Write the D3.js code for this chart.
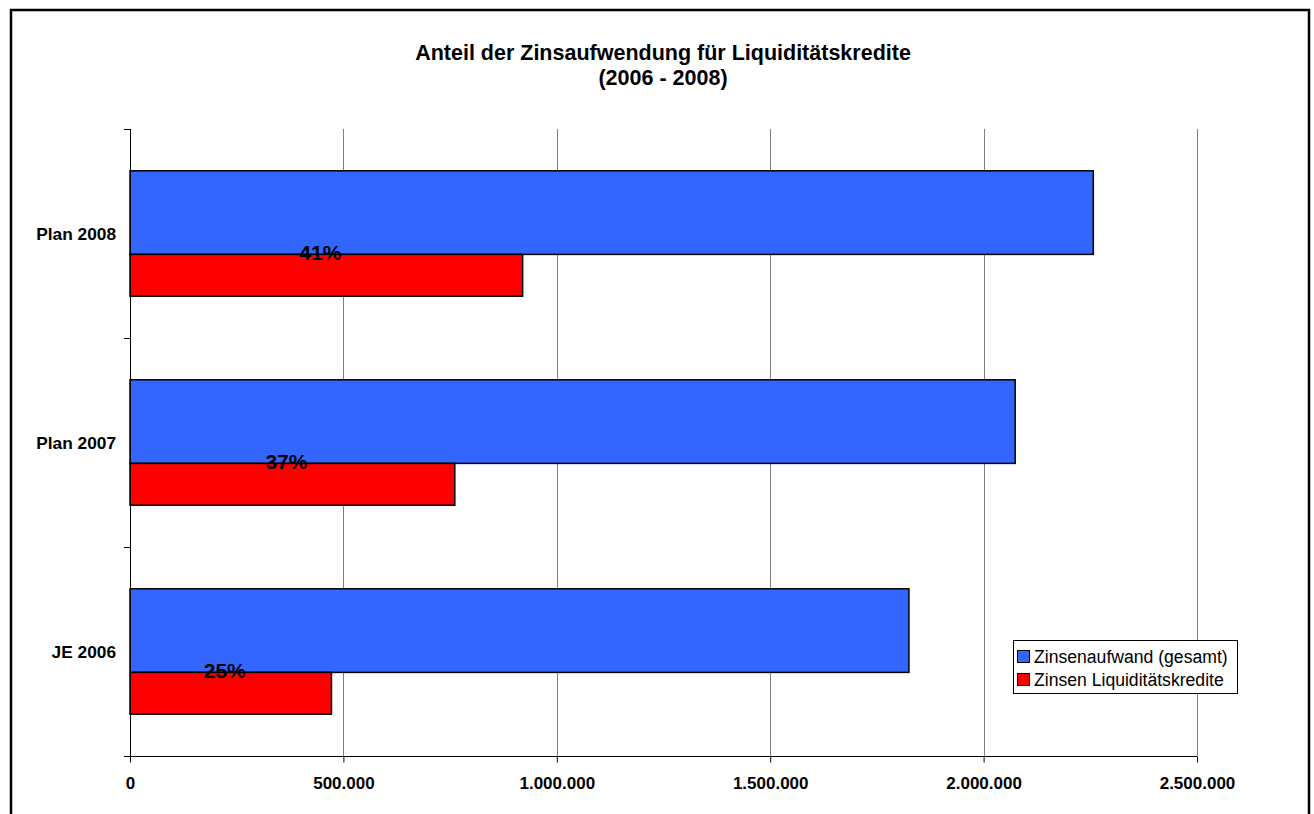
<!DOCTYPE html>
<html>
<head>
<meta charset="utf-8">
<script src="https://cdn.jsdelivr.net/npm/d3@7"></script>
<style>
    body { margin: 0; background: #fff; }
    svg { display: block; font-family: Arial, 'Liberation Sans', sans-serif; }
</style>
</head>
<body>
<div id="chart"></div>
<script>
// values
var categories = ['Plan 2008', 'Plan 2007', 'JE 2006'];
var totalInterest = [2257000, 2074000, 1825000];     // Zinsenaufwand (gesamt)
var liquidityInterest = [920000, 761000, 472000];    // Zinsen Liquiditätskredite
var shareLabels = ['41%', '37%', '25%'];
var xTicks = [0, 500000, 1000000, 1500000, 2000000, 2500000];
var seriesNames = ['Zinsenaufwand (gesamt)', 'Zinsen Liquiditätskredite'];
var seriesColors = ['#3366FF', '#FF0000'];

function drawChart() {
    var width = 1314, height = 814;
    var plotLeft = 130, plotRight = 1197, plotTop = 129, plotBottom = 756;

    var svg = d3.select('#chart').append('svg').attr('width', width).attr('height', height);

    svg.append('rect').attr('width', width).attr('height', height).attr('fill', '#fff');

    // outer frame
    svg.append('rect')
        .attr('x', 11).attr('y', 10)
        .attr('width', 1298).attr('height', 830)
        .attr('fill', 'none').attr('stroke', '#000').attr('stroke-width', 2.5);

    // title
    var title = svg.append('text')
        .attr('text-anchor', 'middle')
        .style('font-weight', 'bold').style('font-size', '21.5px');
    title.append('tspan').attr('x', 663).attr('y', 60).text('Anteil der Zinsaufwendung für Liquiditätskredite');
    title.append('tspan').attr('x', 663).attr('y', 85).text('(2006 - 2008)');

    var x = d3.scaleLinear().domain([0, 2500000]).range([plotLeft, plotRight]);
    var y = d3.scaleBand().domain(categories).range([plotTop, plotBottom]).paddingInner(0.4).paddingOuter(0.2);

    var de = d3.formatLocale({decimal: ',', thousands: '.', grouping: [3], currency: ['', ' €']});
    var fmt = de.format(',d');

    // gridlines
    svg.append('g').selectAll('line')
        .data(xTicks.slice(1))
        .enter()
        .append('line')
        .attr('x1', function (d) { return Math.round(x(d)) + 0.5; })
        .attr('x2', function (d) { return Math.round(x(d)) + 0.5; })
        .attr('y1', plotTop).attr('y2', plotBottom)
        .attr('stroke', '#808080').attr('stroke-width', 1);

    // bars
    var bw = y.bandwidth();
    var rows = categories.map(function (c, i) {
        return {cat: c, total: totalInterest[i], liq: liquidityInterest[i], label: shareLabels[i]};
    });

    var bars = svg.append('g');
    bars.selectAll('rect.total')
        .data(rows)
        .enter()
        .append('rect')
        .attr('class', 'total')
        .attr('x', x(0))
        .attr('y', function (d) { return y(d.cat); })
        .attr('width', function (d) { return x(d.total) - x(0); })
        .attr('height', bw * 2 / 3)
        .attr('fill', seriesColors[0])
        .attr('stroke', '#000').attr('stroke-width', 1.5);

    bars.selectAll('rect.liq')
        .data(rows)
        .enter()
        .append('rect')
        .attr('class', 'liq')
        .attr('x', x(0))
        .attr('y', function (d) { return y(d.cat) + bw * 2 / 3; })
        .attr('width', function (d) { return x(d.liq) - x(0); })
        .attr('height', bw / 3)
        .attr('fill', seriesColors[1])
        .attr('stroke', '#000').attr('stroke-width', 1.5);

    // percentage labels
    svg.append('g').selectAll('text')
        .data(rows)
        .enter()
        .append('text')
        .attr('x', function (d) { return (x(0) + x(d.liq)) / 2 - 6; })
        .attr('y', function (d) { return y(d.cat) + bw * 2 / 3 + 6; })
        .attr('text-anchor', 'middle')
        .style('font-weight', 'bold').style('font-size', '21px')
        .text(function (d) { return d.label; });

    // x axis
    var xAxis = d3.axisBottom(x).tickValues(xTicks).tickFormat(fmt).tickSizeInner(6).tickSizeOuter(0).tickPadding(14);
    var gx = svg.append('g').attr('transform', 'translate(0,' + (plotBottom + 0.5) + ')').call(xAxis);
    gx.select('.domain').attr('d', 'M' + (plotLeft - 6) + ',0H' + plotRight).attr('stroke', '#000');
    gx.selectAll('.tick line').attr('stroke', '#000');
    gx.selectAll('.tick text')
        .style('font-family', 'Arial, \'Liberation Sans\', sans-serif')
        .style('font-weight', 'bold').style('font-size', '17px').attr('fill', '#000');

    // y axis: line, boundary ticks, labels at band centres
    var gy = svg.append('g');
    gy.append('line')
        .attr('x1', plotLeft + 0.5).attr('x2', plotLeft + 0.5)
        .attr('y1', plotTop).attr('y2', plotBottom)
        .attr('stroke', '#000');
    var step = y.step();
    gy.selectAll('line.tk')
        .data(d3.range(categories.length + 1))
        .enter()
        .append('line')
        .attr('class', 'tk')
        .attr('x1', plotLeft - 6).attr('x2', plotLeft)
        .attr('y1', function (i) { return Math.round(plotTop + i * step) + 0.5; })
        .attr('y2', function (i) { return Math.round(plotTop + i * step) + 0.5; })
        .attr('stroke', '#000');
    gy.selectAll('text')
        .data(categories)
        .enter()
        .append('text')
        .attr('x', plotLeft - 14)
        .attr('y', function (d) { return y(d) + bw / 2 + 6; })
        .attr('text-anchor', 'end')
        .style('font-weight', 'bold').style('font-size', '17.3px')
        .text(function (d) { return d; });

    // legend
    var lg = svg.append('g').attr('transform', 'translate(1013,640)');
    lg.append('rect').attr('x', 0.5).attr('y', 0.5).attr('width', 224).attr('height', 53)
        .attr('fill', '#fff').attr('stroke', '#000');
    var items = lg.selectAll('g.item')
        .data(seriesNames)
        .enter()
        .append('g')
        .attr('class', 'item')
        .attr('transform', function (d, i) { return 'translate(0,' + (i * 23) + ')'; });
    items.append('rect')
        .attr('x', 4.5).attr('y', 10.5).attr('width', 12).attr('height', 12)
        .attr('fill', function (d, i) { return seriesColors[i]; })
        .attr('stroke', '#000');
    items.append('text')
        .attr('x', 21).attr('y', 23)
        .style('font-size', '17.6px')
        .text(function (d) { return d; });
}

drawChart();
</script>
</body>
</html>
